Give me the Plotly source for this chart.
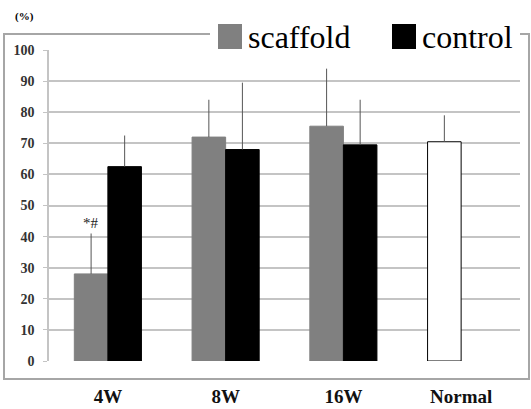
import plotly.graph_objects as go

categories = ["4W", "8W", "16W", "Normal"]
scaffold = [28, 72, 75.5, 70.5]
scaffold_err = [13, 12, 18.5, 8.5]
control = [62.5, 68, 69.5, None]
control_err = [10, 21.5, 14.5, None]
y_ticks = [0, 10, 20, 30, 40, 50, 60, 70, 80, 90, 100]

scaffold_fill = ["#808080", "#808080", "#808080", "#ffffff"]
scaffold_line = ["#808080", "#808080", "#808080", "#000000"]

SERIF = "Liberation Serif, Times New Roman, DejaVu Serif, serif"

fig = go.Figure()
fig.add_trace(go.Bar(
    x=categories, y=scaffold, name="scaffold",
    marker=dict(color=scaffold_fill, line=dict(color=scaffold_line, width=1)),
    error_y=dict(type="data", symmetric=False, array=scaffold_err,
                 arrayminus=[0] * len(scaffold), width=0, thickness=1, color="#555555"),
    showlegend=False,
))
fig.add_trace(go.Bar(
    x=categories, y=control, name="control",
    marker=dict(color="#000000", line=dict(color="#000000", width=1)),
    error_y=dict(type="data", symmetric=False, array=control_err,
                 arrayminus=[0, 0, 0, 0], width=0, thickness=1, color="#555555"),
    showlegend=False,
))

W, H = 531, 409
ml, mr, mt, mb = 49, 11, 50, 48
pw, ph = W - ml - mr, H - mt - mb

def px(x):
    return (x - ml) / pw

def py(y):
    return (H - mb - y) / ph

shapes = [
    dict(type="rect", xref="paper", yref="paper", x0=px(4), x1=px(529), y0=py(379), y1=py(34),
         line=dict(color="#a6a6a6", width=2), fillcolor="rgba(0,0,0,0)", layer="below"),
    dict(type="rect", xref="paper", yref="paper", x0=px(210), x1=px(520), y0=py(58), y1=py(12),
         line=dict(width=0), fillcolor="#ffffff", layer="above"),
    dict(type="rect", xref="paper", yref="paper", x0=px(218), x1=px(242), y0=py(49), y1=py(24),
         line=dict(color="#808080", width=0), fillcolor="#808080", layer="above"),
    dict(type="rect", xref="paper", yref="paper", x0=px(392), x1=px(416), y0=py(49), y1=py(24),
         line=dict(color="#000000", width=0), fillcolor="#000000", layer="above"),
]

annotations = [
    dict(text="scaffold", xref="paper", yref="paper", x=px(246), y=py(37), xanchor="left",
         yanchor="middle", showarrow=False, font=dict(family=SERIF, size=32, color="#000")),
    dict(text="control", xref="paper", yref="paper", x=px(420), y=py(37), xanchor="left",
         yanchor="middle", showarrow=False, font=dict(family=SERIF, size=32, color="#000")),
    dict(text="<b>(%)</b>", xref="paper", yref="paper", x=px(13), y=py(17), xanchor="left",
         yanchor="middle", showarrow=False, font=dict(family=SERIF, size=11, color="#000")),
    dict(text="*#", xref="x", yref="y", x="4W", y=41, xshift=-17, yanchor="bottom",
         showarrow=False, font=dict(family=SERIF, size=15, color="#222")),
]

fig.update_layout(
    width=W, height=H,
    margin=dict(l=ml, r=mr, t=mt, b=mb, pad=0),
    paper_bgcolor="#ffffff", plot_bgcolor="#ffffff",
    barmode="group", bargap=0.43, bargroupgap=0,
    shapes=shapes, annotations=annotations,
    xaxis=dict(showgrid=False, showline=False, zeroline=False, ticks="", automargin=False,
               tickfont=dict(family=SERIF, size=19, color="#111"),
               ticklabelstandoff=22,
               tickvals=categories, ticktext=["<b>%s</b>" % c for c in categories]),
    yaxis=dict(range=[0, 100], tickvals=y_ticks, showgrid=True, gridcolor="#c4c4c4", gridwidth=1.5,
               showline=True, linecolor="#c4c4c4", linewidth=1.5, zeroline=False, automargin=False,
               ticks="outside", ticklen=4, tickcolor="#c4c4c4", ticklabelstandoff=6,
               tickfont=dict(family=SERIF, size=14, color="#333"),
               ticktext=["<b>%d</b>" % v for v in y_ticks]),
)

fig.write_html("out.html", config={"displayModeBar": False},
               post_script="document.body.style.margin='0px';")
